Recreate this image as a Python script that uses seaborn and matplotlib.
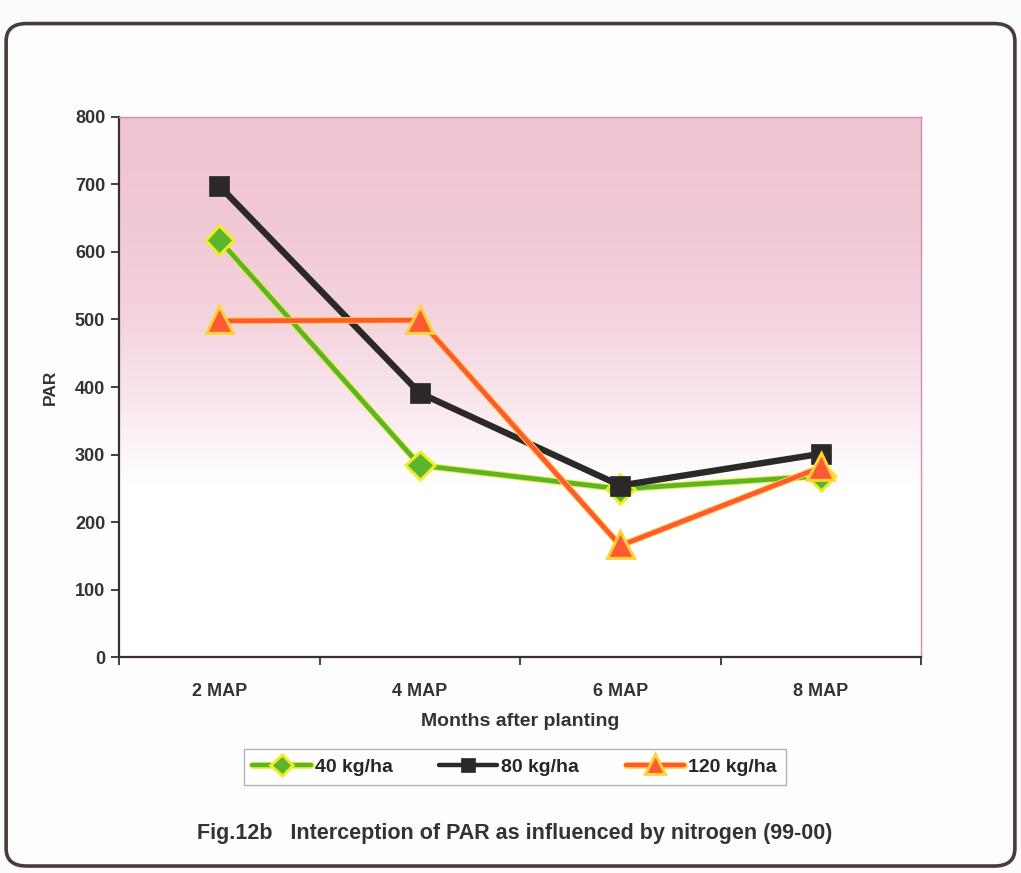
import numpy as np
import pandas as pd
import matplotlib
matplotlib.use("Agg")
import matplotlib.pyplot as plt
import matplotlib.patheffects as pe
from matplotlib.patches import FancyBboxPatch
from matplotlib.colors import LinearSegmentedColormap
import seaborn as sns

# Data
months = ["2 MAP", "4 MAP", "6 MAP", "8 MAP"]
n40 = [618, 284, 249, 268]
n80 = [698, 391, 254, 301]
n120 = [498, 499, 165, 281]
series_names = ["40 kg/ha", "80 kg/ha", "120 kg/ha"]
yticks = [0, 100, 200, 300, 400, 500, 600, 700, 800]

df = pd.DataFrame({
    "month": months * 3,
    "PAR": n40 + n80 + n120,
    "dose": [s for s in series_names for _ in months],
})

sns.set_theme(style="white")
plt.rcParams["font.family"] = ["Liberation Sans", "DejaVu Sans"]
narrow = ["Liberation Sans Narrow", "Liberation Sans", "DejaVu Sans"]

fig = plt.figure(figsize=(10.21, 8.73), dpi=100)
fig.patch.set_facecolor("#fbfbfa")

# rounded frame around the whole chart
frame = FancyBboxPatch((0.006, 0.008), 0.988, 0.965,
                       boxstyle="round,pad=0,rounding_size=0.02",
                       transform=fig.transFigure, facecolor="#fdfdfd",
                       edgecolor="#4a3b3b", linewidth=2.6, zorder=-10)
fig.patches.append(frame)

ax = fig.add_axes([0.1166, 0.2474, 0.7855, 0.6186])
ax.set_zorder(1)
ax.set_facecolor("none")

# pink-to-white vertical gradient in the plot area
cmap = LinearSegmentedColormap.from_list(
    "pinkfade",
    [(0.0, "#ffffff"), (0.32, "#ffffff"), (0.48, "#f9e6ec"),
     (0.62, "#f4d4de"), (0.80, "#f1c9d5"), (1.0, "#efc3d0")])
grad = np.linspace(0, 1, 256).reshape(-1, 1)
ax.imshow(grad, cmap=cmap, origin="lower", aspect="auto",
          extent=(-0.5, 3.5, 0, 800), zorder=0)

palette = {"40 kg/ha": "#5ab52d", "80 kg/ha": "#2b2828", "120 kg/ha": "#ff5a36"}
markers = {"40 kg/ha": "D", "80 kg/ha": "s", "120 kg/ha": "^"}
sizes = {"40 kg/ha": 12, "80 kg/ha": 14, "120 kg/ha": 15}
widths = {"40 kg/ha": 3.4, "80 kg/ha": 4.6, "120 kg/ha": 3.4}
outline = {"40 kg/ha": "#f0ec2a", "80 kg/ha": None, "120 kg/ha": "#ffd23a"}

for name in series_names:
    sub = df[df["dose"] == name]
    sns.lineplot(data=sub, x="month", y="PAR", ax=ax, color=palette[name],
                 marker=markers[name], markersize=sizes[name],
                 markeredgecolor=palette[name], markeredgewidth=0.5,
                 linewidth=widths[name], label=name, zorder=3, sort=False)
    if outline[name]:
        ax.lines[-1].set_path_effects(
            [pe.Stroke(linewidth=4.8, foreground=outline[name]), pe.Normal()])

ax.set_xlim(-0.5, 3.5)
ax.set_ylim(0, 800)
ax.set_yticks(yticks)
ax.set_yticklabels([str(v) for v in yticks], fontsize=13, fontweight="bold",
                   color="#333333")

# category ticks between categories, labels centred under each
ax.set_xticks([-0.5, 0.5, 1.5, 2.5, 3.5])
ax.set_xticklabels([])
ax.set_xticks(range(len(months)), minor=True)
ax.set_xticklabels(months, minor=True, fontsize=13, fontweight="bold",
                   color="#333333")
ax.tick_params(axis="x", which="minor", length=0, pad=19)
ax.tick_params(axis="x", which="major", length=6, width=1.3, color="#3b3030",
               direction="out", bottom=True)
ax.tick_params(axis="y", length=6, width=1.3, color="#3b3030",
               direction="out", left=True, pad=4)

for side in ["left", "bottom"]:
    ax.spines[side].set_color("#3b3030")
    ax.spines[side].set_linewidth(1.6)
for side in ["top", "right"]:
    ax.spines[side].set_color("#c98fb8")
    ax.spines[side].set_linewidth(1.0)

ax.set_xlabel("Months after planting", fontsize=14, fontweight="bold",
              family=narrow, color="#333333", labelpad=9)
ax.set_ylabel("PAR", fontsize=12.5, fontweight="bold", color="#333333",
              labelpad=12)

leg = ax.legend(loc="center", bbox_to_anchor=(0.504, 0.1214),
                bbox_transform=fig.transFigure, ncol=3, frameon=True,
                fancybox=False, edgecolor="#9a9a9a", facecolor="#ffffff",
                prop={"family": narrow, "weight": "bold", "size": 14},
                handlelength=3.0, handletextpad=0.2, columnspacing=2.4,
                borderpad=0.45, markerscale=0.7)
leg.get_frame().set_linewidth(0.9)
for h in leg.get_lines():
    h.set_linewidth(3.2)

fig.text(0.504, 0.045, "Fig.12b   Interception of PAR as influenced by nitrogen (99-00)",
         ha="center", va="center", fontsize=15.5, fontweight="bold",
         family=narrow, color="#333333")

fig.savefig("out.png", dpi=100, facecolor=fig.get_facecolor())
